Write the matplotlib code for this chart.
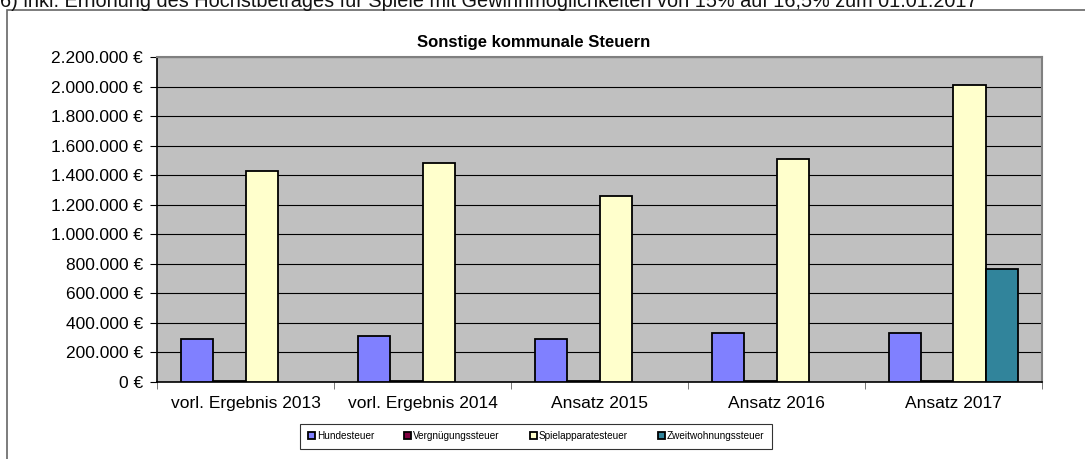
import matplotlib.pyplot as plt
import matplotlib.patches as mpatches
import numpy as np

plt.rcParams['font.family'] = ['Liberation Sans', 'DejaVu Sans']

categories = ['vorl. Ergebnis 2013', 'vorl. Ergebnis 2014', 'Ansatz 2015', 'Ansatz 2016', 'Ansatz 2017']
hundesteuer = [292000, 312000, 292000, 333000, 333000]
vergnuegung = [8000, 5000, 10000, 5000, 5000]
spielapparate = [1426000, 1480000, 1256000, 1507000, 2010000]
zweitwohnung = [0, 0, 0, 0, 767000]

series = [('Hundesteuer', hundesteuer, '#8080FF'),
          ('Vergnügungssteuer', vergnuegung, '#800040'),
          ('Spielapparatesteuer', spielapparate, '#FFFFCC'),
          ('Zweitwohnungssteuer', zweitwohnung, '#31849B')]

fig = plt.figure(figsize=(10.85, 4.59), dpi=100)
ax = fig.add_axes([157/1085, 1-382/459, 885/1085, 325/459])
ax.set_facecolor('#C0C0C0')

x = np.arange(len(categories))
w = 0.181
for i, (name, vals, col) in enumerate(series):
    v = np.array(vals, dtype=float)
    v[v == 0] = np.nan  # no bar where there is no value
    ax.bar(x + (i - 1.5) * w, v, w, color=col, edgecolor='black', linewidth=1.3,
           label=name, zorder=3)

ax.set_xlim(-0.5, len(categories) - 0.5)
ax.set_ylim(0, 2200000)
yt = np.arange(0, 2200001, 200000)
ax.set_yticks(yt)
ax.set_yticklabels([f'{v:,.0f} €'.replace(',', '.') for v in yt], fontsize=12.5)
ax.yaxis.grid(True, color='black', linewidth=0.8, zorder=0)
ax.set_xticks(x)
ax.set_xticklabels(categories, fontsize=12.5)
ax.tick_params(axis='x', which='major', length=0, pad=10)
ax.set_xticks(np.arange(-0.5, len(categories)), minor=True)
ax.tick_params(axis='x', which='minor', length=5, direction='out', color='#606060')
ax.tick_params(axis='y', length=5, direction='out', pad=5)
for s in ['top', 'right']:
    ax.spines[s].set_color('#808080')
    ax.spines[s].set_linewidth(1.5)
for s in ['left', 'bottom']:
    ax.spines[s].set_color('black')
    ax.spines[s].set_linewidth(1.2)

fig.text(534/1085, 1-42/459, 'Sonstige kommunale Steuern', fontsize=12,
         fontweight='bold', ha='center', va='center')

# footnote line at the very top, cut off by the page edge as in the original
fig.text(0.0, 1-7/459,
         '6) inkl. Erhöhung des Höchstbetrages für Spiele mit Gewinnmöglichkeiten von 15% auf 16,5% zum 01.01.2017',
         fontsize=14.3, ha='left', va='baseline', color='#111111')

# outer chart frame
fig.patches.append(mpatches.Rectangle((7/1085, -0.01), 1.0, (459-10)/459 + 0.01,
                                      transform=fig.transFigure, fill=False,
                                      edgecolor='#666666', linewidth=1.2))

leg = fig.legend(loc='center', bbox_to_anchor=(536/1085, 1-436/459), ncol=4,
                 fontsize=7.2, frameon=True, fancybox=False, handlelength=0.7,
                 handleheight=0.7, handletextpad=0.2, columnspacing=3.0,
                 borderpad=0.75, edgecolor='black')
leg.get_frame().set_linewidth(0.8)

fig.savefig('out.png', dpi=100)
